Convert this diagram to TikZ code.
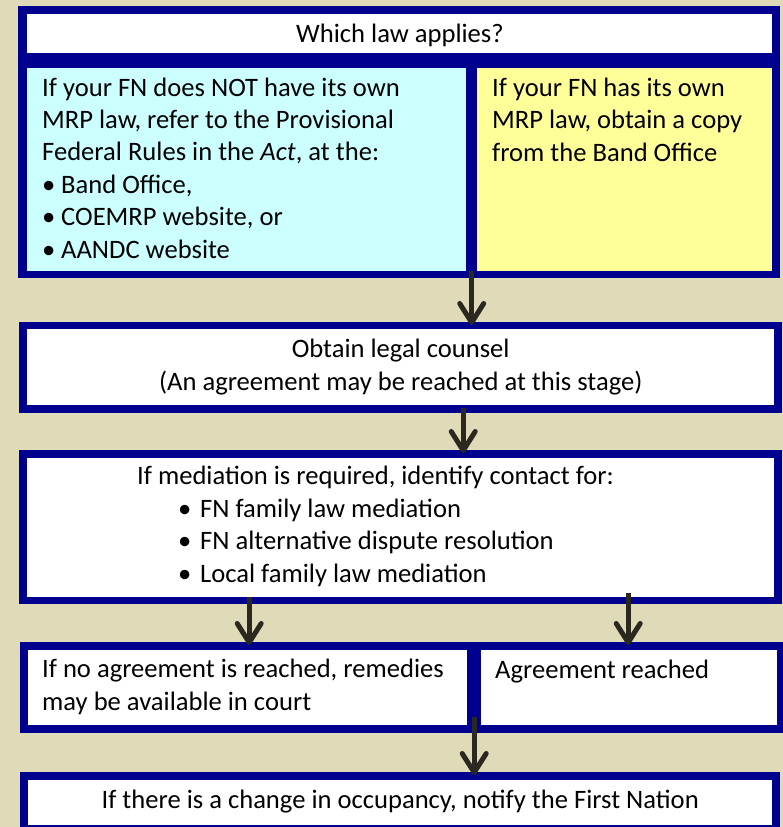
\documentclass[tikz,border=0pt]{standalone}
\usepackage{fontspec}
\setmainfont{Carlito}
\usepackage{tikz}
\usetikzlibrary{arrows.meta,calc}
\definecolor{framenavy}{RGB}{0,0,142}
\definecolor{pagebeige}{RGB}{223,219,185}
\definecolor{panelcyan}{RGB}{204,255,255}
\definecolor{panelyellow}{RGB}{255,255,153}
\definecolor{arrowdark}{RGB}{43,40,32}

\begin{document}
\begin{tikzpicture}[x=1pt,y=-1pt,
  frame/.style={fill=framenavy, inner sep=0pt, anchor=north west},
  panel/.style={fill=white, inner sep=0pt, anchor=north west},
  txt/.style={font=\fontsize{26.6}{32.4}\selectfont, inner sep=0pt, align=left},
  flowarrow/.style={draw=arrowdark, line width=5pt, shorten >=-3pt,
    -{Straight Barb[length=19pt,width=24pt,round]}}]
  % page
  \fill[pagebeige] (0,0) rectangle (783,827);
  \useasboundingbox (0,0) rectangle (783,827);
  % which law (text placed by its last baseline)
  \node[frame, minimum width=762pt, minimum height=272pt] (lawframe) at (18,6) {};
  \node[panel, minimum width=745pt, minimum height=39pt] (question) at (27,14) {};
  \node[panel, fill=panelcyan, minimum width=439pt, minimum height=203pt] (nolaw) at (27,68) {};
  \node[panel, fill=panelyellow, minimum width=295pt, minimum height=203pt] (ownlaw) at (477,68) {};
  \node[txt, anchor=base] (questiontxt) at (400,42) {Which law applies?};
  \node[txt, anchor=base west] (nolawtxt) at ([shift={(15,190)}]nolaw.north west)
    {If your FN does NOT have its own\\
     MRP law, refer to the Provisional\\
     Federal Rules in the \textit{Act}, at the:\\
     \makebox[19pt][l]{\textbullet}Band Office,\\
     \makebox[19pt][l]{\textbullet}COEMRP website, or\\
     \makebox[19pt][l]{\textbullet}AANDC website};
  \node[txt, anchor=base west] (ownlawtxt) at ([shift={(15,93)}]ownlaw.north west)
    {If your FN has its own\\
     MRP law, obtain a copy\\
     from the Band Office};
  % counsel
  \node[frame, minimum width=763pt, minimum height=91pt] (counselframe) at (19,322) {};
  \node[panel, minimum width=747pt, minimum height=76pt] (counsel) at (27,329) {};
  \node[txt, align=center, anchor=base] (counseltxt) at ([shift={(0,61)}]counsel.north)
    {Obtain legal counsel\\(An agreement may be reached at this stage)};
  % mediation
  \node[frame, minimum width=763pt, minimum height=154pt] (mediationframe) at (19,450) {};
  \node[panel, minimum width=747pt, minimum height=139pt] (mediation) at (27,458) {};
  \node[txt, anchor=base west] (mediationtxt) at ([shift={(110,124)}]mediation.north west)
    {If mediation is required, identify contact for:\\
     \hspace*{41pt}\makebox[22pt][l]{\textbullet}FN family law mediation\\
     \hspace*{41pt}\makebox[22pt][l]{\textbullet}FN alternative dispute resolution\\
     \hspace*{41pt}\makebox[22pt][l]{\textbullet}Local family law mediation};
  % outcome
  \node[frame, minimum width=763pt, minimum height=91pt] (outcomeframe) at (20,642) {};
  \node[panel, minimum width=439pt, minimum height=75pt] (court) at (28,650) {};
  \node[panel, minimum width=296pt, minimum height=75pt] (agreed) at (481,650) {};
  \node[txt, anchor=base west] (courttxt) at ([shift={(14,60)}]court.north west)
    {If no agreement is reached, remedies\\may be available in court};
  \node[txt, anchor=base west] (agreedtxt) at ([shift={(14,28)}]agreed.north west)
    {Agreement reached};
  % notify
  \node[frame, minimum width=760pt, minimum height=60pt] (notifyframe) at (20,772) {};
  \node[panel, minimum width=744pt, minimum height=45pt] (notify) at (28,780) {};
  \node[txt, anchor=base] (notifytxt) at ([shift={(0,28)}]notify.north)
    {If there is a change in occupancy, notify the First Nation};
  % arrows
  \coordinate (lawout) at ($(nolaw.south east)!0.5!(ownlaw.south west)$);
  \coordinate (counselout) at ([shift={(62.5,-5)}]counselframe.south);
  \coordinate (courtin) at ([shift={(-151.5,-7)}]mediationframe.south);
  \coordinate (agreedin) at ([shift={(227.5,-11)}]mediationframe.south);
  \coordinate (outcomeout) at ([shift={(0,-8)}]$(court.south east)!0.5!(agreed.south west)$);
  \draw[flowarrow] (lawout) -- (lawout |- counselframe.north);
  \draw[flowarrow] (counselout) -- (counselout |- mediationframe.north);
  \draw[flowarrow] (courtin) -- (courtin |- outcomeframe.north);
  \draw[flowarrow] (agreedin) -- (agreedin |- outcomeframe.north);
  \draw[flowarrow] (outcomeout) -- (outcomeout |- notifyframe.north);
\end{tikzpicture}
\end{document}
